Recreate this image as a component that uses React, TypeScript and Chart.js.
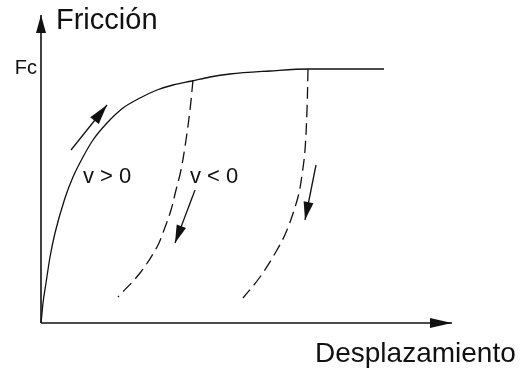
import { useEffect, useRef } from "react";
import { Chart, registerables } from "chart.js";
Chart.register(...registerables);

type P = { x: number; y: number };

// Fc level (friction plateau)
const FC = 254;

// Rising friction curve (v > 0)
const risingCurve: P[] = [
  { x: 0, y: 0 }, { x: 1, y: 10 }, { x: 2, y: 20 }, { x: 5, y: 40 }, { x: 9, y: 66 },
  { x: 14, y: 90 }, { x: 24, y: 125 }, { x: 32, y: 146 }, { x: 42, y: 166 },
  { x: 52, y: 183 }, { x: 66, y: 200 }, { x: 82, y: 215 }, { x: 99, y: 225 },
  { x: 116, y: 233 }, { x: 132, y: 238 }, { x: 151, y: 242 }, { x: 169, y: 246 },
  { x: 189, y: 249 }, { x: 229, y: 252 }, { x: 267, y: FC }, { x: 343, y: FC },
];

// Dashed return curves (v < 0)
const dropCurve1: P[] = [
  { x: 152, y: 243 }, { x: 149, y: 213 }, { x: 145, y: 183 }, { x: 140, y: 153 },
  { x: 135, y: 133 }, { x: 130, y: 113 }, { x: 123, y: 93 }, { x: 116, y: 76 },
  { x: 99, y: 50 }, { x: 77, y: 26 },
];
const dropCurve2: P[] = [
  { x: 267, y: FC }, { x: 266, y: 213 }, { x: 264, y: 173 }, { x: 261, y: 148 },
  { x: 257, y: 126 }, { x: 246, y: 93 }, { x: 236, y: 73 }, { x: 219, y: 46 }, { x: 202, y: 25 },
];

// Direction arrows (tail -> tip)
const arrowUp: P[] = [{ x: 30, y: 173 }, { x: 66, y: 218 }];
const arrowDown1: P[] = [{ x: 154, y: 133 }, { x: 134, y: 80 }];
const arrowDown2: P[] = [{ x: 275, y: 158 }, { x: 264, y: 103 }];

// Axes
const axisY: P[] = [{ x: 0, y: 0 }, { x: 0, y: 308 }];
const axisX: P[] = [{ x: 0, y: 0 }, { x: 411, y: 0 }];

// Labels
const yTitle = "Fricción";
const xTitle = "Desplazamiento";
const fcLabel = "Fc";
const labelPos = "v > 0";
const labelNeg = "v < 0";

const FONT = '"Liberation Sans", Arial, sans-serif';
const INK = "#111";

const arrowPlugin = {
  id: "arrowHeads",
  afterDatasetsDraw(chart: any) {
    const ctx = chart.ctx as CanvasRenderingContext2D;
    chart.data.datasets.forEach((ds: any, i: number) => {
      if (!ds.headLen) return;
      const meta = chart.getDatasetMeta(i);
      const pts = meta.data;
      if (pts.length < 2) return;
      const a = pts[pts.length - 2];
      const b = pts[pts.length - 1];
      const ang = Math.atan2(b.y - a.y, b.x - a.x);
      const L = ds.headLen;
      const W = ds.headWidth / 2;
      const bx = b.x - L * Math.cos(ang);
      const by = b.y - L * Math.sin(ang);
      ctx.save();
      ctx.fillStyle = INK;
      ctx.beginPath();
      ctx.moveTo(b.x, b.y);
      ctx.lineTo(bx + W * Math.sin(ang), by - W * Math.cos(ang));
      ctx.lineTo(bx - W * Math.sin(ang), by + W * Math.cos(ang));
      ctx.closePath();
      ctx.fill();
      ctx.restore();
    });
  },
};

const textPlugin = {
  id: "texts",
  afterDraw(chart: any) {
    const ctx = chart.ctx as CanvasRenderingContext2D;
    const sx = chart.scales.x;
    const sy = chart.scales.y;
    const put = (t: string, x: number, y: number, size: number, align: CanvasTextAlign = "left") => {
      ctx.save();
      ctx.font = `${size}px ${FONT}`;
      ctx.fillStyle = INK;
      ctx.textAlign = align;
      ctx.textBaseline = "alphabetic";
      ctx.fillText(t, sx.getPixelForValue(x), sy.getPixelForValue(y));
      ctx.restore();
    };
    put(yTitle, 15, 294, 29);
    put(fcLabel, -4, FC - 5, 20, "right");
    put(labelPos, 42, 140, 22);
    put(labelNeg, 149, 140, 22);
    put(xTitle, 274, -39, 28);
  },
};

export default function App() {
  const ref = useRef<HTMLCanvasElement>(null);
  useEffect(() => {
    if (!ref.current) return;
    const line = (data: P[], extra: any = {}) => ({
      data,
      borderColor: INK,
      borderWidth: 1.3,
      pointRadius: 0,
      pointHoverRadius: 0,
      fill: false,
      tension: 0,
      clip: false,
      ...extra,
    });
    const chart = new Chart(ref.current, {
      type: "line",
      data: {
        datasets: [
          line(axisY, { borderWidth: 1.6, headLen: 18, headWidth: 10 }),
          line(axisX, { borderWidth: 1.6, headLen: 22, headWidth: 10 }),
          line(risingCurve, { cubicInterpolationMode: "monotone" }),
          line(dropCurve1, { borderDash: [12, 6], tension: 0.35 }),
          line(dropCurve2, { borderDash: [12, 6], tension: 0.35 }),
          line(arrowUp, { headLen: 20, headWidth: 11 }),
          line(arrowDown1, { headLen: 18, headWidth: 10 }),
          line(arrowDown2, { headLen: 18, headWidth: 10 }),
        ] as any,
      },
      options: {
        animation: false,
        responsive: false,
        layout: { padding: 0 },
        plugins: { legend: { display: false }, tooltip: { enabled: false } },
        events: [],
        scales: {
          x: { type: "linear", min: -41, max: 480, display: false },
          y: { type: "linear", min: -46, max: 323, display: false },
        },
      },
      plugins: [arrowPlugin, textPlugin],
    });
    return () => chart.destroy();
  }, []);
  return (
    <div style={{ position: "absolute", left: 0, top: 0, width: 521, height: 369, background: "#fff" }}>
      <canvas ref={ref} width={521} height={369} />
    </div>
  );
}
